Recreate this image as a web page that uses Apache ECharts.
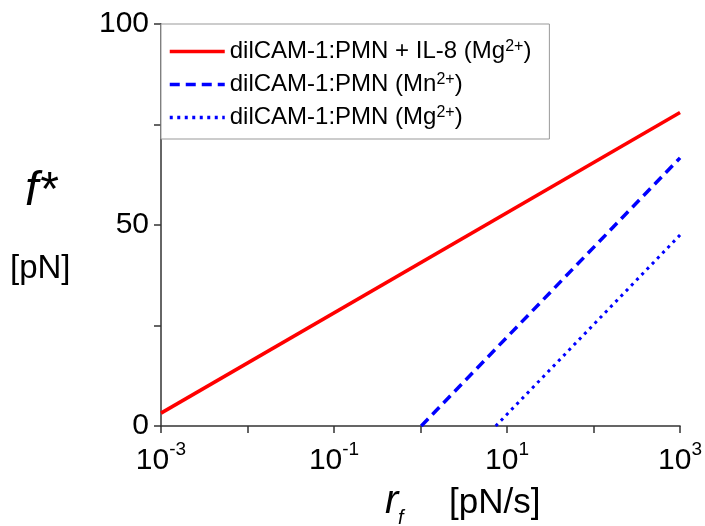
<!DOCTYPE html>
<html>
<head>
<meta charset="utf-8">
<script src="https://cdn.jsdelivr.net/npm/echarts@6/dist/echarts.min.js"></script>
<style>
  html, body { margin: 0; padding: 0; background: #fff; }
  #chart { width: 705px; height: 526px; }
</style>
</head>
<body>
<div id="chart"></div>
<script>
// series data: [rf (pN/s), f* (pN)]
var seriesNames = ['dilCAM-1:PMN + IL-8 (Mg2+)', 'dilCAM-1:PMN (Mn2+)', 'dilCAM-1:PMN (Mg2+) '];
var legendLabels = ['dilCAM-1:PMN + IL-8 (Mg{s|2+})', 'dilCAM-1:PMN (Mn{s|2+})', 'dilCAM-1:PMN (Mg{s|2+})'];
var il8Mg = [[0.001, 3.2], [1000, 78]];
var pmnMn = [[1.02, 0], [1000, 66.7]];
var pmnMg = [[7.4, 0], [1000, 47.5]];
var xTicksLabelled = [-3, -1, 1, 3];   // exponents of labelled decades
var yTicksLabelled = [0, 50, 100];

var font = 'Liberation Sans, Arial, sans-serif';
var chart = echarts.init(document.getElementById('chart'));

var option = {
    animation: false,
    backgroundColor: '#fff',
    grid: { left: 161, right: 23, top: 24, bottom: 100 },
    xAxis: {
        type: 'log',
        logBase: 10,
        min: 0.001,
        max: 1000,
        axisLine: { lineStyle: { color: '#333', width: 1.5 } },
        axisTick: { inside: false, length: 7, lineStyle: { color: '#333', width: 1.5 } },
        splitLine: { show: false },
        minorTick: { show: false },
        axisLabel: {
            margin: 14,
            color: '#000',
            fontFamily: font,
            formatter: function (v) {
                var e = Math.round(Math.log10(v));
                if (xTicksLabelled.indexOf(e) < 0) return '';
                return '{b|10}{s|' + e + '}';
            },
            rich: {
                b: { fontSize: 30, fontFamily: font, color: '#000', lineHeight: 36, verticalAlign: 'bottom' },
                s: { fontSize: 19, fontFamily: font, color: '#000', verticalAlign: 'top', lineHeight: 20 }
            }
        }
    },
    yAxis: {
        type: 'value',
        min: 0,
        max: 100,
        interval: 25,
        axisLine: { show: true, lineStyle: { color: '#333', width: 1.5 } },
        axisTick: { show: true, inside: false, length: 7, lineStyle: { color: '#333', width: 1.5 } },
        splitLine: { show: false },
        axisLabel: {
            margin: 12,
            color: '#000',
            fontSize: 30,
            fontFamily: font,
            formatter: function (v) {
                return yTicksLabelled.indexOf(v) >= 0 ? String(v) : '';
            }
        }
    },
    legend: {
        orient: 'vertical',
        left: 161,
        top: 24,
        padding: [15, 18, 9, 7],
        itemGap: 8,
        itemWidth: 55,
        itemHeight: 14,
        backgroundColor: '#fff',
        borderColor: '#999',
        borderWidth: 1,
        borderRadius: 0,
        itemStyle: { opacity: 0 },
        lineStyle: { width: 3.5 },
        data: seriesNames,
        formatter: function (name) {
            return legendLabels[seriesNames.indexOf(name)];
        },
        textStyle: {
            fontSize: 24,
            fontFamily: font,
            color: '#000',
            lineHeight: 25,
            rich: {
                s: { fontSize: 16, fontFamily: font, color: '#000', verticalAlign: 'top', lineHeight: 14 }
            }
        }
    },
    graphic: [
        { type: 'text', left: 25, top: 168, style: { text: 'f*', font: 'italic 48px ' + font, fill: '#000' } },
        { type: 'text', left: 10, top: 252, style: { text: '[pN]', font: '33px ' + font, fill: '#000' } },
        { type: 'text', left: 385, top: 482, style: { text: 'r', font: 'italic 40px ' + font, fill: '#000' } },
        { type: 'text', left: 398, top: 508, style: { text: 'f', font: 'italic 20px ' + font, fill: '#000' } },
        { type: 'text', left: 449, top: 486, style: { text: '[pN/s]', font: '35px ' + font, fill: '#000' } }
    ],
    series: [
        {
            name: seriesNames[0],
            type: 'line',
            data: il8Mg,
            symbol: 'none',
            itemStyle: { color: '#ff0000' },
            lineStyle: { color: '#ff0000', width: 3.5 }
        },
        {
            name: seriesNames[1],
            type: 'line',
            data: pmnMn,
            symbol: 'none',
            itemStyle: { color: '#0000ff' },
            lineStyle: { color: '#0000ff', width: 3.5, type: [10, 6] }
        },
        {
            name: seriesNames[2],
            type: 'line',
            data: pmnMg,
            symbol: 'none',
            itemStyle: { color: '#0000ff' },
            lineStyle: { color: '#0000ff', width: 3, type: [3, 4.5] }
        }
    ]
};

chart.setOption(option);
</script>
</body>
</html>
